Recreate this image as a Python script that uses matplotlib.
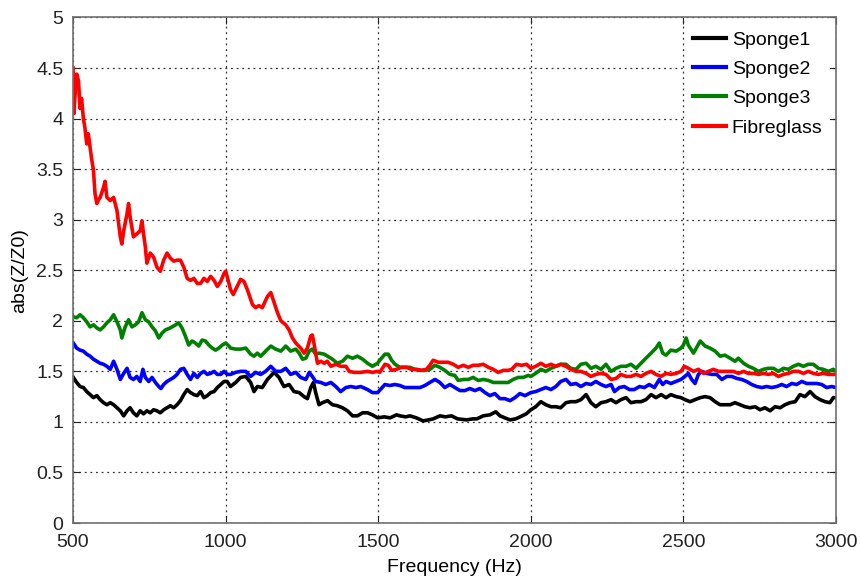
import matplotlib
matplotlib.use('Agg')
import matplotlib.pyplot as plt

plt.rcParams['font.family'] = ['Liberation Sans', 'DejaVu Sans']

# Sponge1 (black)
freq_s1 = [501, 512, 523, 534, 545, 556, 567, 578, 589, 600, 611, 622, 633, 644, 655, 666, 677, 687,
           698, 709, 720, 731, 742, 753, 764, 775, 786, 797, 808, 819, 830, 841, 852, 863, 874, 885,
           896, 907, 918, 929, 940, 951, 962, 973, 984, 995, 1005, 1016, 1033, 1049, 1066, 1082, 1093,
           1104, 1120, 1137, 1159, 1175, 1191, 1208, 1224, 1241, 1257, 1268, 1279, 1288, 1295, 1306,
           1317, 1334, 1350, 1366, 1383, 1399, 1416, 1432, 1449, 1465, 1481, 1498, 1520, 1539, 1560,
           1571, 1590, 1604, 1625, 1647, 1665, 1680, 1702, 1720, 1740, 1760, 1790, 1810, 1823, 1844,
           1866, 1885, 1899, 1915, 1932, 1950, 1965, 1985, 2000, 2016, 2033, 2049, 2066, 2082, 2098,
           2115, 2131, 2148, 2164, 2181, 2197, 2213, 2230, 2246, 2263, 2279, 2295, 2312, 2328, 2345,
           2361, 2377, 2394, 2410, 2427, 2443, 2459, 2476, 2492, 2505, 2522, 2538, 2555, 2571, 2587,
           2604, 2620, 2636, 2653, 2669, 2686, 2702, 2718, 2735, 2751, 2767, 2784, 2800, 2817, 2833,
           2849, 2866, 2882, 2898, 2915, 2931, 2948, 2964, 2980, 2991, 3000]
abs_s1 = [1.44, 1.39, 1.35, 1.34, 1.30, 1.27, 1.24, 1.26, 1.22, 1.19, 1.17, 1.19, 1.17, 1.14, 1.11, 1.06,
          1.11, 1.14, 1.09, 1.06, 1.11, 1.08, 1.11, 1.09, 1.12, 1.11, 1.09, 1.12, 1.14, 1.16, 1.14, 1.17,
          1.21, 1.27, 1.32, 1.29, 1.27, 1.26, 1.30, 1.24, 1.26, 1.29, 1.30, 1.34, 1.37, 1.40, 1.40, 1.35,
          1.39, 1.44, 1.45, 1.39, 1.30, 1.35, 1.34, 1.42, 1.49, 1.44, 1.35, 1.37, 1.30, 1.29, 1.25, 1.23,
          1.34, 1.39, 1.29, 1.17, 1.19, 1.21, 1.17, 1.16, 1.14, 1.11, 1.06, 1.06, 1.09, 1.09, 1.07, 1.04,
          1.05, 1.04, 1.07, 1.06, 1.05, 1.06, 1.04, 1.01, 1.02, 1.03, 1.06, 1.05, 1.06, 1.03, 1.02, 1.03,
          1.03, 1.06, 1.07, 1.10, 1.06, 1.04, 1.02, 1.03, 1.05, 1.08, 1.12, 1.15, 1.20, 1.17, 1.15, 1.15,
          1.14, 1.19, 1.20, 1.20, 1.22, 1.27, 1.19, 1.15, 1.19, 1.20, 1.22, 1.19, 1.22, 1.24, 1.19, 1.20,
          1.20, 1.22, 1.27, 1.24, 1.27, 1.24, 1.27, 1.25, 1.24, 1.22, 1.20, 1.22, 1.24, 1.25, 1.24, 1.20,
          1.17, 1.17, 1.17, 1.19, 1.17, 1.15, 1.14, 1.15, 1.12, 1.14, 1.11, 1.15, 1.14, 1.17, 1.19, 1.20,
          1.27, 1.25, 1.30, 1.25, 1.22, 1.20, 1.19, 1.24, 1.24]

# Sponge2 (blue)
freq_s2 = [501, 512, 523, 534, 545, 556, 567, 578, 589, 600, 611, 622, 633, 644, 655, 666, 677, 687,
           698, 709, 720, 729, 737, 748, 759, 770, 781, 788, 797, 808, 819, 830, 841, 852, 863, 874,
           885, 896, 907, 918, 929, 940, 951, 962, 973, 984, 995, 1005, 1016, 1033, 1049, 1066, 1082,
           1098, 1115, 1131, 1148, 1164, 1181, 1197, 1213, 1230, 1246, 1263, 1274, 1284, 1295, 1312,
           1328, 1345, 1361, 1377, 1394, 1410, 1427, 1443, 1465, 1481, 1498, 1522, 1538, 1555, 1571,
           1587, 1604, 1620, 1637, 1653, 1669, 1686, 1702, 1718, 1735, 1751, 1768, 1784, 1800, 1817,
           1833, 1850, 1866, 1882, 1899, 1915, 1932, 1948, 1964, 1981, 2000, 2016, 2033, 2049, 2066,
           2082, 2098, 2115, 2131, 2148, 2164, 2181, 2197, 2213, 2230, 2246, 2263, 2274, 2290, 2306,
           2323, 2339, 2356, 2372, 2388, 2405, 2421, 2432, 2443, 2459, 2476, 2492, 2505, 2516, 2527,
           2538, 2549, 2560, 2576, 2593, 2609, 2626, 2642, 2658, 2675, 2691, 2707, 2724, 2740, 2757,
           2773, 2789, 2806, 2822, 2838, 2855, 2871, 2888, 2904, 2920, 2937, 2953, 2969, 2986, 3000]
abs_s2 = [1.78, 1.73, 1.71, 1.70, 1.67, 1.65, 1.62, 1.60, 1.58, 1.57, 1.55, 1.52, 1.60, 1.52, 1.42, 1.48,
          1.53, 1.44, 1.42, 1.45, 1.40, 1.52, 1.44, 1.40, 1.44, 1.39, 1.35, 1.33, 1.37, 1.40, 1.42, 1.44,
          1.47, 1.52, 1.53, 1.47, 1.42, 1.48, 1.44, 1.48, 1.50, 1.47, 1.48, 1.50, 1.47, 1.47, 1.50, 1.47,
          1.47, 1.49, 1.50, 1.50, 1.45, 1.49, 1.47, 1.50, 1.55, 1.50, 1.50, 1.53, 1.47, 1.49, 1.44, 1.42,
          1.49, 1.45, 1.40, 1.39, 1.37, 1.39, 1.35, 1.30, 1.34, 1.35, 1.34, 1.35, 1.32, 1.29, 1.29, 1.37,
          1.36, 1.37, 1.36, 1.34, 1.34, 1.34, 1.34, 1.36, 1.39, 1.42, 1.39, 1.34, 1.37, 1.34, 1.31, 1.31,
          1.33, 1.31, 1.33, 1.29, 1.26, 1.28, 1.23, 1.23, 1.21, 1.24, 1.28, 1.26, 1.29, 1.30, 1.32, 1.34,
          1.32, 1.35, 1.40, 1.42, 1.37, 1.38, 1.35, 1.38, 1.37, 1.40, 1.37, 1.35, 1.37, 1.30, 1.34, 1.35,
          1.32, 1.32, 1.35, 1.34, 1.37, 1.34, 1.42, 1.37, 1.40, 1.38, 1.40, 1.42, 1.45, 1.48, 1.42, 1.38,
          1.47, 1.50, 1.48, 1.47, 1.47, 1.42, 1.45, 1.45, 1.43, 1.42, 1.40, 1.37, 1.35, 1.34, 1.35, 1.34,
          1.35, 1.37, 1.35, 1.38, 1.37, 1.40, 1.38, 1.38, 1.38, 1.37, 1.34, 1.35, 1.34]

# Sponge3 (green)
freq_s3 = [501, 512, 523, 534, 545, 556, 567, 578, 589, 600, 611, 622, 633, 644, 655, 660, 671, 682,
           693, 704, 715, 726, 737, 748, 759, 770, 781, 792, 803, 819, 836, 846, 857, 868, 879, 890,
           901, 912, 923, 934, 945, 956, 967, 978, 989, 1000, 1011, 1016, 1033, 1049, 1066, 1082, 1093,
           1104, 1115, 1131, 1148, 1164, 1181, 1197, 1213, 1230, 1241, 1252, 1263, 1274, 1284, 1295,
           1306, 1323, 1334, 1350, 1366, 1383, 1399, 1416, 1432, 1449, 1465, 1481, 1498, 1505, 1522,
           1533, 1544, 1555, 1571, 1587, 1604, 1620, 1637, 1653, 1669, 1686, 1702, 1718, 1735, 1751,
           1762, 1779, 1795, 1811, 1828, 1844, 1861, 1877, 1893, 1910, 1926, 1942, 1959, 1975, 1992,
           2000, 2016, 2033, 2049, 2066, 2082, 2098, 2115, 2131, 2148, 2164, 2181, 2197, 2213, 2230,
           2246, 2263, 2279, 2295, 2312, 2328, 2345, 2361, 2377, 2394, 2410, 2421, 2432, 2443, 2459,
           2476, 2492, 2500, 2509, 2516, 2533, 2544, 2555, 2571, 2587, 2604, 2620, 2636, 2653, 2669,
           2680, 2697, 2713, 2729, 2746, 2762, 2778, 2795, 2811, 2828, 2844, 2860, 2877, 2893, 2909,
           2926, 2942, 2958, 2975, 2991, 3000]
abs_s3 = [2.04, 2.03, 2.06, 2.03, 1.99, 1.94, 1.96, 1.93, 1.91, 1.94, 1.98, 2.01, 2.06, 1.99, 1.91, 1.83,
          1.94, 2.01, 1.94, 1.96, 1.99, 2.08, 2.01, 1.99, 1.94, 1.90, 1.83, 1.88, 1.91, 1.93, 1.96, 1.98,
          1.93, 1.85, 1.76, 1.80, 1.78, 1.75, 1.81, 1.80, 1.76, 1.73, 1.71, 1.73, 1.76, 1.78, 1.75, 1.73,
          1.72, 1.72, 1.73, 1.67, 1.65, 1.68, 1.65, 1.70, 1.75, 1.72, 1.70, 1.75, 1.70, 1.72, 1.68, 1.62,
          1.63, 1.70, 1.72, 1.67, 1.68, 1.67, 1.65, 1.62, 1.58, 1.60, 1.65, 1.63, 1.65, 1.62, 1.58, 1.55,
          1.58, 1.61, 1.67, 1.67, 1.61, 1.57, 1.54, 1.54, 1.54, 1.52, 1.51, 1.51, 1.52, 1.56, 1.54, 1.51,
          1.47, 1.46, 1.41, 1.42, 1.42, 1.44, 1.41, 1.42, 1.41, 1.39, 1.39, 1.39, 1.39, 1.42, 1.44, 1.44,
          1.46, 1.45, 1.48, 1.52, 1.50, 1.53, 1.55, 1.57, 1.57, 1.53, 1.52, 1.57, 1.58, 1.53, 1.55, 1.52,
          1.57, 1.50, 1.53, 1.55, 1.55, 1.57, 1.53, 1.58, 1.63, 1.68, 1.73, 1.78, 1.68, 1.66, 1.71, 1.70,
          1.73, 1.76, 1.83, 1.76, 1.68, 1.74, 1.80, 1.75, 1.73, 1.70, 1.65, 1.66, 1.63, 1.60, 1.63, 1.58,
          1.55, 1.53, 1.50, 1.52, 1.53, 1.53, 1.50, 1.53, 1.52, 1.55, 1.57, 1.55, 1.57, 1.57, 1.53, 1.52,
          1.50, 1.52, 1.50]

# Fibreglass (red)
freq_fg = [500, 503, 508, 512, 518, 523, 528, 534, 539, 545, 550, 556, 561, 567, 572, 578, 584, 589,
           600, 605, 611, 622, 633, 644, 655, 660, 666, 677, 682, 687, 698, 709, 720, 726, 731, 737,
           742, 753, 764, 775, 786, 797, 808, 819, 830, 841, 852, 863, 874, 885, 896, 907, 918, 929,
           940, 951, 962, 973, 984, 995, 1000, 1005, 1016, 1025, 1038, 1049, 1060, 1071, 1088, 1098,
           1109, 1120, 1137, 1148, 1159, 1170, 1181, 1197, 1208, 1219, 1230, 1246, 1257, 1268, 1279,
           1284, 1290, 1295, 1301, 1312, 1323, 1333, 1345, 1361, 1377, 1394, 1405, 1421, 1443, 1465,
           1481, 1498, 1505, 1522, 1533, 1544, 1560, 1576, 1593, 1609, 1626, 1642, 1658, 1669, 1680,
           1697, 1713, 1729, 1746, 1762, 1779, 1795, 1811, 1828, 1844, 1861, 1877, 1893, 1910, 1926,
           1937, 1953, 1970, 1986, 2000, 2016, 2033, 2049, 2066, 2082, 2098, 2115, 2131, 2148, 2164,
           2181, 2197, 2213, 2230, 2246, 2263, 2279, 2295, 2312, 2328, 2345, 2361, 2377, 2394, 2410,
           2427, 2443, 2459, 2476, 2492, 2503, 2516, 2533, 2549, 2566, 2582, 2598, 2615, 2631, 2647,
           2664, 2680, 2697, 2713, 2729, 2746, 2762, 2778, 2795, 2811, 2828, 2844, 2860, 2877, 2893,
           2909, 2926, 2942, 2958, 2975, 2991, 3000]
abs_fg = [4.50, 4.05, 4.30, 4.44, 4.37, 4.10, 4.20, 4.00, 3.91, 3.75, 3.85, 3.71, 3.60, 3.49, 3.26, 3.16,
          3.20, 3.22, 3.32, 3.38, 3.22, 3.19, 3.22, 3.09, 2.83, 2.76, 2.89, 3.06, 3.16, 3.03, 2.83, 2.86,
          2.89, 2.99, 2.86, 2.73, 2.57, 2.67, 2.63, 2.53, 2.49, 2.60, 2.67, 2.62, 2.59, 2.60, 2.60, 2.53,
          2.42, 2.40, 2.42, 2.37, 2.37, 2.42, 2.39, 2.44, 2.40, 2.34, 2.39, 2.47, 2.49, 2.44, 2.31, 2.26,
          2.34, 2.41, 2.39, 2.31, 2.16, 2.13, 2.15, 2.13, 2.24, 2.28, 2.18, 2.08, 2.00, 1.96, 1.91, 1.83,
          1.78, 1.73, 1.68, 1.73, 1.85, 1.86, 1.77, 1.68, 1.58, 1.60, 1.58, 1.60, 1.55, 1.57, 1.55, 1.55,
          1.50, 1.49, 1.49, 1.50, 1.49, 1.50, 1.49, 1.57, 1.56, 1.51, 1.52, 1.54, 1.54, 1.52, 1.52, 1.51,
          1.52, 1.56, 1.61, 1.59, 1.59, 1.59, 1.57, 1.54, 1.56, 1.54, 1.56, 1.56, 1.57, 1.54, 1.52, 1.49,
          1.51, 1.51, 1.52, 1.57, 1.56, 1.57, 1.53, 1.55, 1.58, 1.55, 1.57, 1.55, 1.57, 1.55, 1.52, 1.50,
          1.50, 1.48, 1.45, 1.47, 1.48, 1.47, 1.42, 1.43, 1.47, 1.45, 1.45, 1.47, 1.45, 1.48, 1.50, 1.47,
          1.45, 1.48, 1.47, 1.48, 1.50, 1.55, 1.53, 1.50, 1.52, 1.48, 1.50, 1.52, 1.50, 1.50, 1.50, 1.50,
          1.48, 1.50, 1.48, 1.48, 1.47, 1.48, 1.47, 1.48, 1.45, 1.47, 1.48, 1.50, 1.50, 1.48, 1.50, 1.48,
          1.47, 1.48, 1.47, 1.47, 1.47]

x_ticks = [500, 1000, 1500, 2000, 2500, 3000]
y_ticks = [0, 0.5, 1, 1.5, 2, 2.5, 3, 3.5, 4, 4.5, 5]
y_tick_labels = ['0', '0.5', '1', '1.5', '2', '2.5', '3', '3.5', '4', '4.5', '5']

fig = plt.figure(figsize=(8.61, 5.81), dpi=100)
ax = fig.add_axes([0.0848, 0.0998, 0.8862, 0.8701])

lw = 2.6
ax.plot(freq_s1, abs_s1, color='black', lw=lw, label='Sponge1')
ax.plot(freq_s2, abs_s2, color='#0000ff', lw=lw, label='Sponge2')
ax.plot(freq_s3, abs_s3, color='#008000', lw=lw, label='Sponge3')
ax.plot(freq_fg, abs_fg, color='#ff0000', lw=lw, label='Fibreglass')

ax.set_xlim(500, 3000)
ax.set_ylim(0, 5)
ax.set_xticks(x_ticks)
ax.set_yticks(y_ticks)
ax.set_yticklabels(y_tick_labels)
ax.grid(True, linestyle=(0, (1.5, 3)), color='#333333', linewidth=0.9)
ax.tick_params(direction='in', top=True, right=True, length=5, labelsize=14, colors='#222222')
ax.tick_params(axis='x', pad=8)
ax.tick_params(axis='y', pad=7)
for sp in ax.spines.values():
    sp.set_color('#707070')
    sp.set_linewidth(1.2)

ax.set_xlabel('Frequency (Hz)', fontsize=14, labelpad=6)
ax.set_ylabel('abs(Z/Z0)', fontsize=14, labelpad=6)

leg = ax.legend(loc='upper right', fontsize=14, frameon=True, fancybox=False,
                edgecolor='none', facecolor='white', framealpha=1,
                handlelength=1.7, handletextpad=0.3, labelspacing=0.6, borderaxespad=0.3)
for line in leg.get_lines():
    line.set_linewidth(3)

fig.savefig('out.png', dpi=100)
